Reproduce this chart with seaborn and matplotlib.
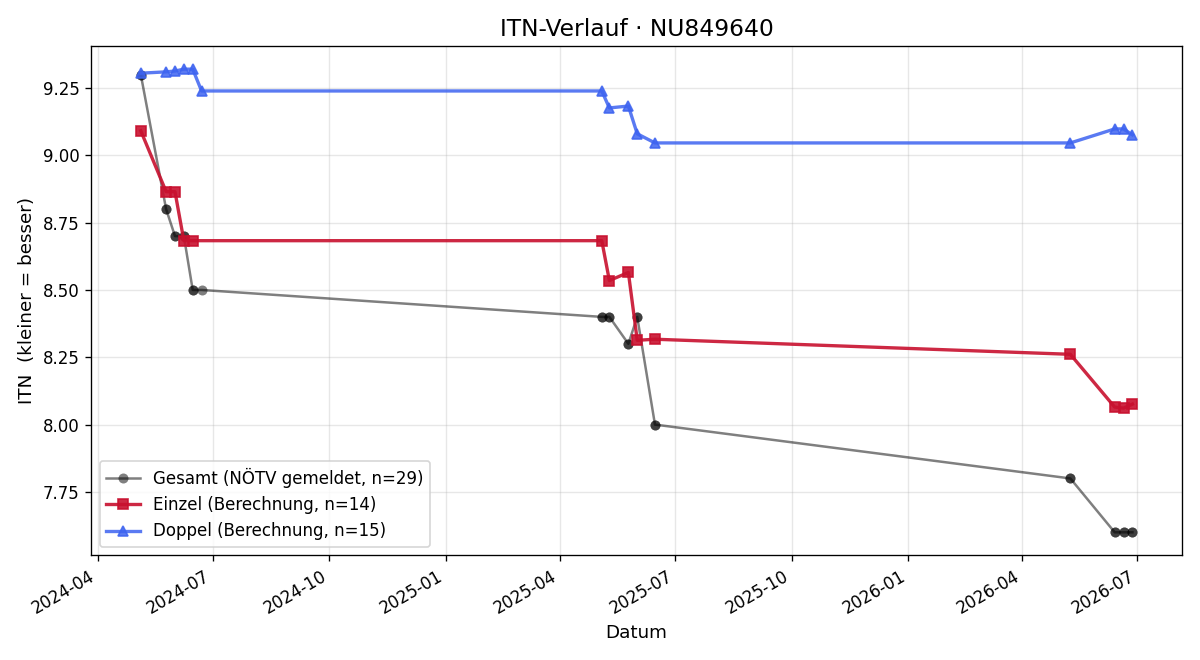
import seaborn as sns
import matplotlib.pyplot as plt
import matplotlib.dates as mdates
import pandas as pd

# Einzel (singles) matches
einzel_dates = ["2024-05-05", "2024-05-25", "2024-06-01", "2024-06-08", "2024-06-15",
                "2025-05-04", "2025-05-10", "2025-05-25", "2025-06-01", "2025-06-15",
                "2026-05-09", "2026-06-13", "2026-06-20", "2026-06-27"]
einzel_itn = [9.091, 8.865, 8.865, 8.683, 8.683,
              8.683, 8.535, 8.565, 8.313, 8.317,
              8.261, 8.065, 8.061, 8.076]

# Doppel (doubles) matches
doppel_dates = ["2024-05-05", "2024-05-25", "2024-06-01", "2024-06-08", "2024-06-15", "2024-06-22",
                "2025-05-04", "2025-05-10", "2025-05-25", "2025-06-01", "2025-06-15",
                "2026-05-09", "2026-06-13", "2026-06-20", "2026-06-27"]
doppel_itn = [9.305, 9.310, 9.313, 9.320, 9.320, 9.239,
              9.239, 9.176, 9.183, 9.080, 9.046,
              9.046, 9.098, 9.098, 9.076]

# Gesamt (reported by NÖTV), one value per match
gesamt_dates = ["2024-05-05", "2024-05-05", "2024-05-25", "2024-05-25", "2024-06-01", "2024-06-01",
                "2024-06-08", "2024-06-08", "2024-06-15", "2024-06-15", "2024-06-22",
                "2025-05-04", "2025-05-04", "2025-05-10", "2025-05-10", "2025-05-25", "2025-05-25",
                "2025-06-01", "2025-06-01", "2025-06-15", "2025-06-15",
                "2026-05-09", "2026-05-09", "2026-06-13", "2026-06-13", "2026-06-20", "2026-06-20",
                "2026-06-27", "2026-06-27"]
gesamt_itn = [9.3, 9.3, 8.8, 8.8, 8.7, 8.7,
              8.7, 8.7, 8.5, 8.5, 8.5,
              8.4, 8.4, 8.4, 8.4, 8.3, 8.3,
              8.4, 8.4, 8.0, 8.0,
              7.8, 7.8, 7.6, 7.6, 7.6, 7.6,
              7.6, 7.6]

df_g = pd.DataFrame({"Datum": pd.to_datetime(gesamt_dates), "ITN": gesamt_itn})
df_e = pd.DataFrame({"Datum": pd.to_datetime(einzel_dates), "ITN": einzel_itn})
df_d = pd.DataFrame({"Datum": pd.to_datetime(doppel_dates), "ITN": doppel_itn})

fig, ax = plt.subplots(figsize=(10, 5.5), dpi=120)

c_g, c_e, c_d = "black", "#c8102e", "#3d63f0"
sns.lineplot(data=df_g, x="Datum", y="ITN", ax=ax, estimator=None, sort=False,
             color=c_g, alpha=0.5, linewidth=1.5, marker="o", markersize=6,
             markeredgewidth=0,
             label=f"Gesamt (NÖTV gemeldet, n={len(df_g)})")
sns.lineplot(data=df_e, x="Datum", y="ITN", ax=ax, estimator=None, sort=False,
             color=c_e, alpha=0.9, linewidth=2, marker="s", markersize=6,
             markeredgecolor=c_e, markeredgewidth=1,
             label=f"Einzel (Berechnung, n={len(df_e)})")
sns.lineplot(data=df_d, x="Datum", y="ITN", ax=ax, estimator=None, sort=False,
             color=c_d, alpha=0.85, linewidth=2, marker="^", markersize=6.5,
             markeredgecolor=c_d, markeredgewidth=1,
             label=f"Doppel (Berechnung, n={len(df_d)})")

ax.set_title("ITN-Verlauf · NU849640", fontsize=14)
ax.set_xlabel("Datum", fontsize=11)
ax.set_ylabel("ITN  (kleiner = besser)", fontsize=11)
ax.grid(True, alpha=0.3)
ax.xaxis.set_major_locator(mdates.MonthLocator(bymonth=[1, 4, 7, 10]))
ax.xaxis.set_major_formatter(mdates.DateFormatter("%Y-%m"))
ax.legend(loc="lower left")
fig.autofmt_xdate()
plt.tight_layout()
plt.savefig("out.png", dpi=120)
